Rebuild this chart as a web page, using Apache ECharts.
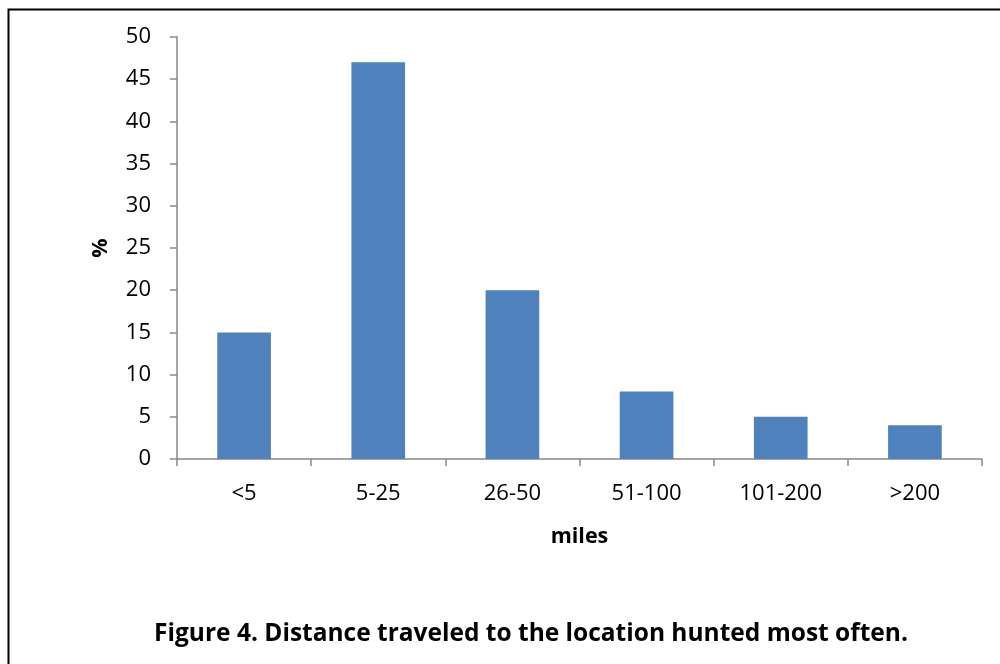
<!doctype html>
<html lang="en">
<head>
    <meta charset="UTF-8">
    <title>Figure 4</title>
    <script src="https://cdn.jsdelivr.net/npm/echarts@6/dist/echarts.min.js"></script>
    <style>
        html, body { margin: 0; padding: 0; background: #fff; }
        #main { width: 1000px; height: 664px; }
    </style>
</head>
<body>
<div id="main"></div>
<script type="text/javascript">
    // data
    var categories = ['<5', '5-25', '26-50', '51-100', '101-200', '>200'];
    var percents = [15, 47, 20, 8, 5, 4];

    var fontName = 'Open Sans';
    var myChart = echarts.init(document.getElementById('main'));

    var option = {
        backgroundColor: '#fff',
        animation: false,
        textStyle: { fontFamily: fontName },
        title: {
            text: 'Figure 4. Distance traveled to the location hunted most often.',
            left: 526,
            top: 617,
            textAlign: 'center',
            textStyle: { fontFamily: fontName, fontSize: 24.5, fontWeight: 'bold', color: '#000' }
        },
        grid: {
            left: 177,
            right: 18,
            top: 37,
            bottom: 205
        },
        xAxis: {
            type: 'category',
            data: categories,
            name: 'miles',
            nameLocation: 'middle',
            nameGap: 67,
            nameTextStyle: { fontFamily: fontName, fontSize: 21.5, fontWeight: 'bold', color: '#000' },
            axisLine: { lineStyle: { color: '#888', width: 1.5 } },
            axisTick: { show: true, alignWithLabel: false, length: 7, lineStyle: { color: '#888', width: 1.5 } },
            axisLabel: { color: '#000', fontSize: 22, margin: 24 }
        },
        yAxis: {
            type: 'value',
            min: 0,
            max: 50,
            interval: 5,
            name: '%',
            nameLocation: 'middle',
            nameGap: 65,
            nameRotate: 90,
            nameTextStyle: { fontFamily: fontName, fontSize: 21.5, fontWeight: 'bold', color: '#000' },
            axisLine: { show: true, lineStyle: { color: '#888', width: 1.5 } },
            axisTick: { show: true, length: 7, lineStyle: { color: '#888', width: 1.5 } },
            splitLine: { show: false },
            axisLabel: { color: '#000', fontSize: 22, margin: 26 }
        },
        series: [
            {
                name: '%',
                type: 'bar',
                data: percents,
                barCategoryGap: '60%',
                itemStyle: { color: '#4f81bd' }
            }
        ],
        graphic: [
            {
                type: 'rect',
                left: 6,
                top: 7,
                shape: { width: 1010, height: 700 },
                style: { fill: 'none', stroke: '#000', lineWidth: 2 },
                silent: true
            }
        ]
    };

    myChart.setOption(option);
</script>
</body>
</html>
